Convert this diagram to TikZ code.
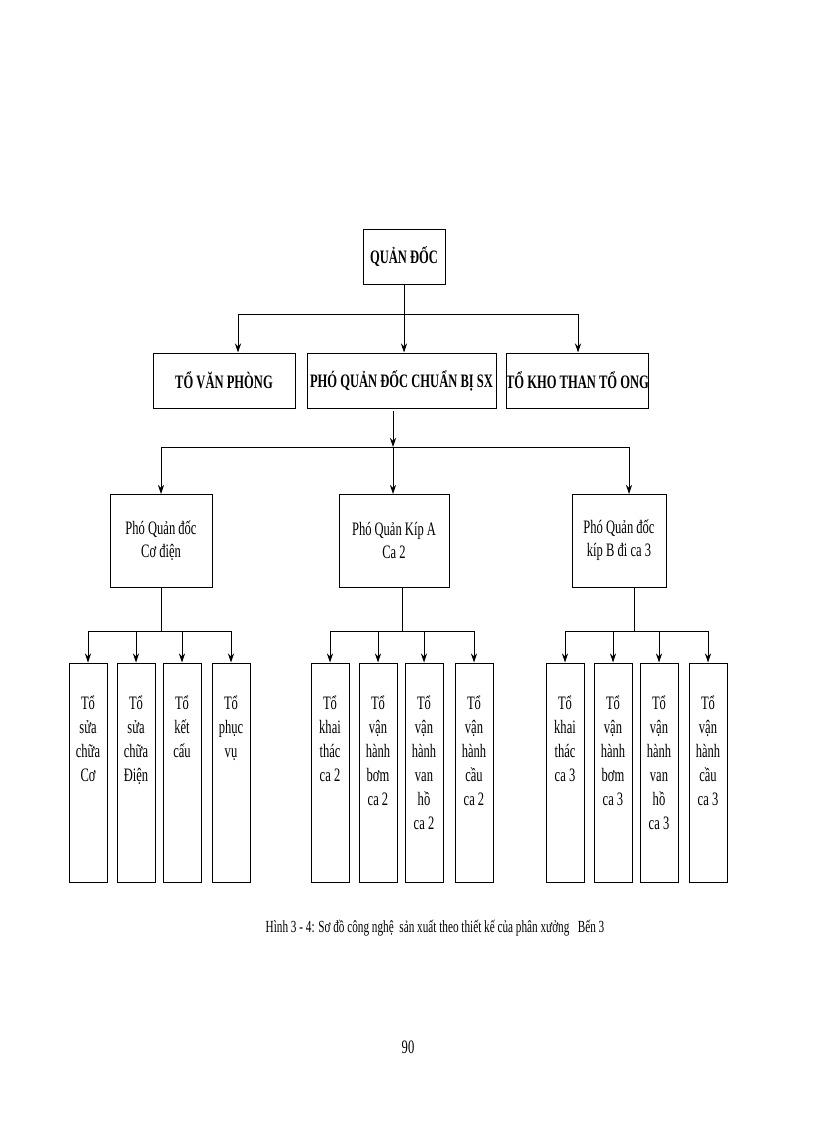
\documentclass[tikz,border=0pt]{standalone}
\usepackage{fontspec}
\setmainfont{Liberation Serif}[FakeStretch=0.66]
\usetikzlibrary{arrows.meta}
\begin{document}
\begin{tikzpicture}[x=1pt,y=-1pt,
  box/.style={draw,line width=1pt,inner sep=0pt},
  top/.style={box,font=\bfseries\fontsize{19}{22}\selectfont},
  mid/.style={box,align=center,font=\fontsize{19}{23}\selectfont},
  leaf/.style={box,minimum width=38,minimum height=219},
  lt/.style={align=center,anchor=north,inner sep=0pt,font=\fontsize{19}{24}\selectfont},
  arr/.style={-{Stealth[length=9pt,width=6pt]},line width=0.8pt},
  ln/.style={line width=0.8pt}]
\useasboundingbox (0,0) rectangle (816,1123);
\node[top,minimum width=82,minimum height=54] (q) at (404,257) {QUẢN ĐỐC};
\node[top,minimum width=142,minimum height=55] (a) at (224,380.5) {TỔ VĂN PHÒNG};
\node[top,minimum width=189,minimum height=55] (b) at (401.5,380.5) {PHÓ QUẢN ĐỐC CHUẨN BỊ SX};
\node[top,minimum width=141,minimum height=55] (c) at (577.5,380.5) {TỔ KHO THAN TỔ ONG};
\coordinate (b1) at (404,314);
\draw[ln] (q.south) -- (b1);
\draw[ln] (238,314) -- (578,314);
\draw[arr] (238,314) -- (a.north-|238,0);
\draw[arr] (b1) -- (b.north-|404,0);
\draw[arr] (578,314) -- (c.north-|578,0);
\node[mid,minimum width=102,minimum height=93] (p1) at (161,540.5) {Phó Quản đốc\\Cơ điện};
\node[mid,minimum width=110,minimum height=93] (p2) at (394,540.5) {Phó Quản Kíp A\\Ca 2};
\node[mid,minimum width=94,minimum height=93] (p3) at (619,540.5) {Phó Quản đốc\\kíp B đi ca 3};
\coordinate (b2) at (393,447);
\draw[arr] (393,411) -- (b2);
\draw[ln] (161,447) -- (629,447);
\draw[arr] (161,447) -- (161,494);
\draw[arr] (393,447) -- (393,494);
\draw[arr] (629,447) -- (629,494);
% leaves
\foreach \n/\x/\t in {
 l1/88/{Tổ\\sửa\\chữa\\Cơ}, l2/136/{Tổ\\sửa\\chữa\\Điện}, l3/182/{Tổ\\kết\\cấu}, l4/231/{Tổ\\phục\\vụ},
 m1/330/{Tổ\\khai\\thác\\ca 2}, m2/378/{Tổ\\vận\\hành\\bơm\\ca 2}, m3/424/{Tổ\\vận\\hành\\van\\hồ\\ca 2}, m4/474/{Tổ\\vận\\hành\\cầu\\ca 2},
 r1/565/{Tổ\\khai\\thác\\ca 3}, r2/613/{Tổ\\vận\\hành\\bơm\\ca 3}, r3/659/{Tổ\\vận\\hành\\van\\hồ\\ca 3}, r4/708/{Tổ\\vận\\hành\\cầu\\ca 3}}{
  \node[leaf] (\n) at (\x,772.5) {};
  \node[lt] (\n t) at ([yshift=-33pt]\n.north) {\t};
}
\foreach \g/\s/\xa/\xb/\ca/\cb/\cc/\cd in {p1/161/88/231/l1/l2/l3/l4, p2/402/330/474/m1/m2/m3/m4, p3/634/565/708/r1/r2/r3/r4}{
  \draw[ln] (\s,587) -- (\s,631);
  \draw[ln] (\xa,631) -- (\xb,631);
  \foreach \c in {\ca,\cb,\cc,\cd}{\draw[arr] (\c.north|-0,631) -- (\c.north);}
}
\node[font=\fontsize{17}{19}\selectfont] (cap) at (435,928) {Hình 3 - 4: Sơ đồ công nghệ\ \ sản xuất theo thiết kế của phân xưởng\ \ \ Bến 3};
\node[font=\fontsize{19}{21}\selectfont] (pg) at (408,1047) {90};
\end{tikzpicture}
\end{document}
